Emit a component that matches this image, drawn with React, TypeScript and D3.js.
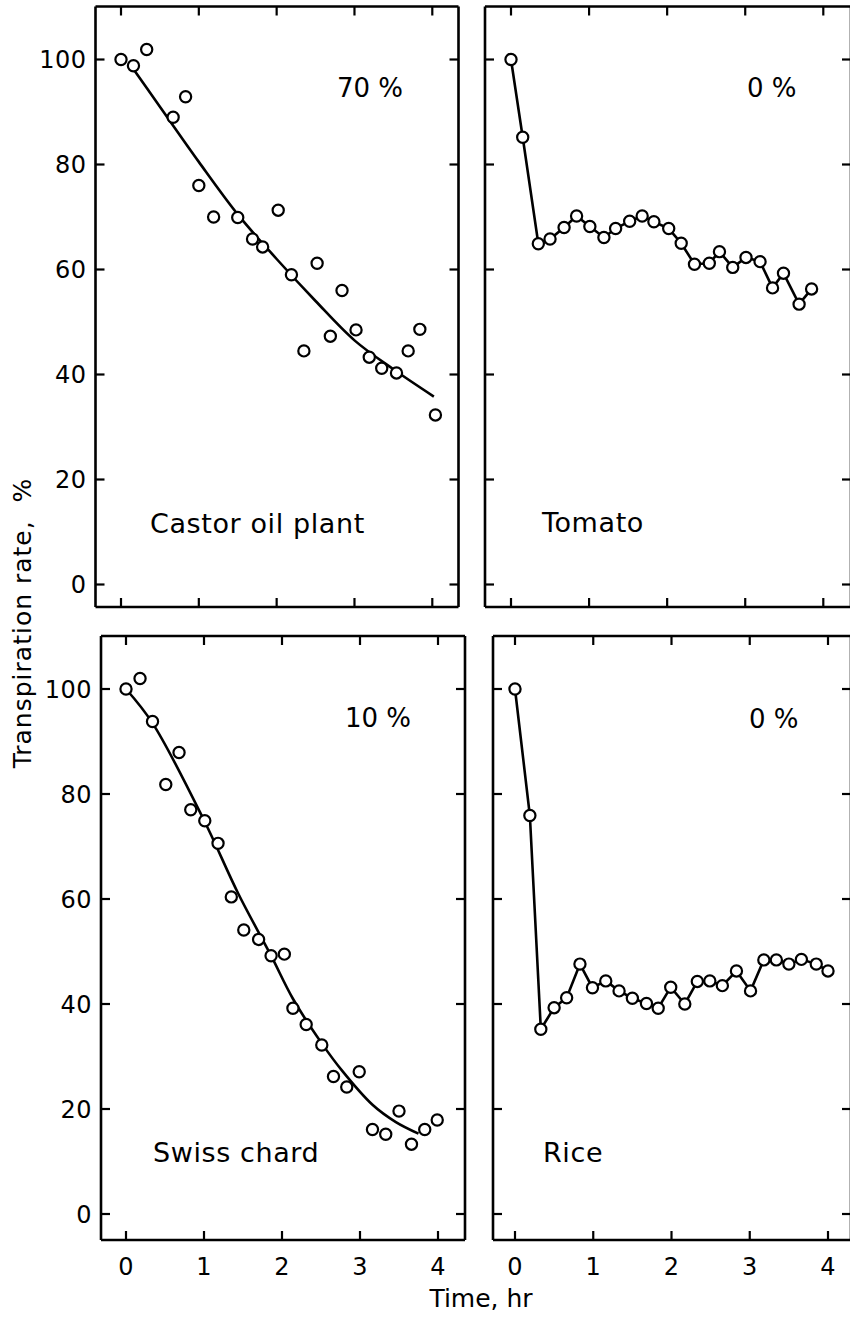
import React from "react";
import * as d3 from "d3";

// ---------- data ----------
const timeTicks = [0, 1, 2, 3, 4];
const rateTicks = [0, 20, 40, 60, 80, 100];

const castorTime = [0, 0.16, 0.33, 0.67, 0.83, 1.0, 1.19, 1.5, 1.69, 1.82, 2.02, 2.19, 2.35, 2.52, 2.69, 2.84, 3.02, 3.19, 3.35, 3.54, 3.69, 3.84, 4.04];
const castorRate = [100, 98.8, 101.9, 89, 92.9, 76, 70, 69.9, 65.8, 64.3, 71.3, 59, 44.5, 61.2, 47.3, 56, 48.5, 43.3, 41.2, 40.3, 44.5, 48.6, 32.3];
const castorFitTime = [0.12, 0.5, 1.0, 1.5, 2.0, 2.5, 3.0, 3.5, 4.02];
const castorFitRate = [99, 91, 80.5, 70.5, 62, 54, 46.5, 41, 35.8];

const tomatoTime = [0, 0.15, 0.35, 0.5, 0.68, 0.84, 1.01, 1.19, 1.34, 1.52, 1.68, 1.83, 2.02, 2.18, 2.35, 2.54, 2.67, 2.84, 3.01, 3.19, 3.35, 3.49, 3.69, 3.85];
const tomatoRate = [100, 85.2, 64.9, 65.8, 68, 70.2, 68.2, 66.1, 67.8, 69.2, 70.2, 69.1, 67.8, 65, 61, 61.2, 63.4, 60.4, 62.3, 61.5, 56.5, 59.3, 53.4, 56.3];

const chardTime = [0, 0.18, 0.34, 0.51, 0.68, 0.83, 1.01, 1.18, 1.35, 1.51, 1.7, 1.86, 2.03, 2.14, 2.31, 2.51, 2.66, 2.83, 2.99, 3.16, 3.33, 3.5, 3.66, 3.83, 3.99];
const chardRate = [100, 102, 93.8, 81.8, 87.9, 77, 74.9, 70.6, 60.4, 54.1, 52.3, 49.2, 49.5, 39.2, 36.1, 32.2, 26.2, 24.2, 27.1, 16.1, 15.2, 19.6, 13.3, 16.1, 17.9];
const chardFitTime = [0, 0.34, 1.0, 1.44, 1.86, 2.14, 2.51, 2.77, 3.16, 3.46, 3.75];
const chardFitRate = [100, 93.5, 75, 61, 49.2, 41, 32.5, 27.3, 20.8, 17.5, 15.3];

const riceTime = [0, 0.19, 0.33, 0.5, 0.66, 0.83, 0.99, 1.16, 1.33, 1.5, 1.68, 1.83, 1.99, 2.17, 2.33, 2.49, 2.65, 2.83, 3.01, 3.18, 3.34, 3.5, 3.66, 3.85, 4.0];
const riceRate = [100, 75.9, 35.2, 39.3, 41.2, 47.6, 43.1, 44.4, 42.5, 41.1, 40.1, 39.2, 43.2, 40, 44.3, 44.4, 43.5, 46.3, 42.5, 48.4, 48.4, 47.6, 48.5, 47.6, 46.3];

const plantNames = ["Castor oil plant", "Tomato", "Swiss chard", "Rice"];
const humidityLabels = ["70 %", "0 %", "10 %", "0 %"];

const xTitle = "Time, hr";
const yTitle = "Transpiration rate,  %";

// ---------- layout ----------
const W = 850;
const H = 1319;
const FONT = "'DejaVu Sans', Verdana, sans-serif";

type Panel = {
  name: string;
  pct: string;
  time: number[];
  rate: number[];
  fitTime?: number[];
  fitRate?: number[];
  box: { l: number; t: number; r: number; b: number };
  xr: [number, number];
  yr: [number, number];
  nameAt: [number, number];
  pctAt: [number, number];
  yLabels: boolean;
  xLabels: boolean;
};

const panels: Panel[] = [
  {
    name: plantNames[0], pct: humidityLabels[0], time: castorTime, rate: castorRate,
    fitTime: castorFitTime, fitRate: castorFitRate,
    box: { l: 95.5, t: 6.5, r: 458.5, b: 607 }, xr: [121, 432.3], yr: [584.5, 59.5],
    nameAt: [150, 533], pctAt: [337, 97], yLabels: true, xLabels: false,
  },
  {
    name: plantNames[1], pct: humidityLabels[1], time: tomatoTime, rate: tomatoRate,
    box: { l: 485, t: 6.5, r: 851, b: 607 }, xr: [511, 823.3], yr: [584.5, 59.5],
    nameAt: [542, 532], pctAt: [747, 97], yLabels: false, xLabels: false,
  },
  {
    name: plantNames[2], pct: humidityLabels[2], time: chardTime, rate: chardRate,
    fitTime: chardFitTime, fitRate: chardFitRate,
    box: { l: 101, t: 636, r: 465, b: 1240 }, xr: [126, 438], yr: [1214, 689],
    nameAt: [153, 1162], pctAt: [345, 727], yLabels: true, xLabels: true,
  },
  {
    name: plantNames[3], pct: humidityLabels[3], time: riceTime, rate: riceRate,
    box: { l: 493, t: 636, r: 851, b: 1240 }, xr: [515, 828], yr: [1214, 689],
    nameAt: [543, 1162], pctAt: [749, 728], yLabels: false, xLabels: true,
  },
];

const TICK = 9;

function PanelView({ p }: { p: Panel }) {
  const x = d3.scaleLinear().domain([0, 4]).range(p.xr);
  const y = d3.scaleLinear().domain([0, 100]).range(p.yr);
  const pts = p.time.map((t, i) => [x(t), y(p.rate[i])] as [number, number]);
  const { l, t, r, b } = p.box;

  let linePath: string | null = null;
  if (p.fitTime && p.fitRate) {
    const fit = p.fitTime.map((tt, i) => [x(tt), y(p.fitRate![i])] as [number, number]);
    linePath = d3.line().curve(d3.curveCatmullRom.alpha(0.5))(fit);
  } else {
    linePath = d3.line()(pts);
  }

  return (
    <g>
      {/* frame */}
      <path
        d={`M${l},${t}H${r}M${l},${t}V${b}M${l},${b}H${r}M${r},${t}V${b}`}
        fill="none"
        stroke="#000"
        strokeWidth={2.6}
      />
      {/* ticks */}
      {timeTicks.map((tk) => (
        <g key={"xt" + tk}>
          <line x1={x(tk)} x2={x(tk)} y1={t} y2={t + TICK} stroke="#000" strokeWidth={2.2} />
          <line x1={x(tk)} x2={x(tk)} y1={b} y2={b - TICK} stroke="#000" strokeWidth={2.2} />
        </g>
      ))}
      {rateTicks.map((tk) => (
        <g key={"yt" + tk}>
          <line x1={l} x2={l + TICK} y1={y(tk)} y2={y(tk)} stroke="#000" strokeWidth={2.2} />
          <line x1={r} x2={r - TICK} y1={y(tk)} y2={y(tk)} stroke="#000" strokeWidth={2.2} />
        </g>
      ))}
      {/* tick labels */}
      {p.yLabels &&
        rateTicks.map((tk) => (
          <text
            key={"yl" + tk}
            x={l - 9}
            y={y(tk)}
            dy="0.36em"
            textAnchor="end"
            fontSize={24}
            fontFamily={FONT}
            letterSpacing={0.5}
          >
            {tk}
          </text>
        ))}
      {p.xLabels &&
        timeTicks.map((tk) => (
          <text
            key={"xl" + tk}
            x={x(tk)}
            y={1275}
            textAnchor="middle"
            fontSize={24}
            fontFamily={FONT}
          >
            {tk}
          </text>
        ))}
      {/* data line */}
      {linePath && <path d={linePath} fill="none" stroke="#000" strokeWidth={2.6} />}
      {/* circles */}
      {pts.map(([cx, cy], i) => (
        <circle key={"c" + i} cx={cx} cy={cy} r={5.6} fill="#fff" stroke="#000" strokeWidth={2.2} />
      ))}
      {/* labels */}
      <text x={p.nameAt[0]} y={p.nameAt[1]} fontSize={27} fontFamily={FONT} letterSpacing={0.6}>
        {p.name}
      </text>
      <text x={p.pctAt[0]} y={p.pctAt[1]} fontSize={26} fontFamily={FONT}>
        {p.pct}
      </text>
    </g>
  );
}

export default function App() {
  return (
    <svg
      width={W}
      height={H}
      viewBox={`0 0 ${W} ${H}`}
      style={{ position: "absolute", left: 0, top: 0, background: "#fff" }}
    >
      <rect x={0} y={0} width={W} height={H} fill="#fff" />
      {panels.map((p, i) => (
        <PanelView key={i} p={p} />
      ))}
      <text x={481} y={1307} textAnchor="middle" fontSize={25} fontFamily={FONT}>
        {xTitle}
      </text>
      <text
        transform="translate(31,623) rotate(-90)"
        textAnchor="middle"
        fontSize={25}
        fontFamily={FONT}
        letterSpacing={1}
        style={{ whiteSpace: "pre" }}
      >
        {yTitle}
      </text>
    </svg>
  );
}
